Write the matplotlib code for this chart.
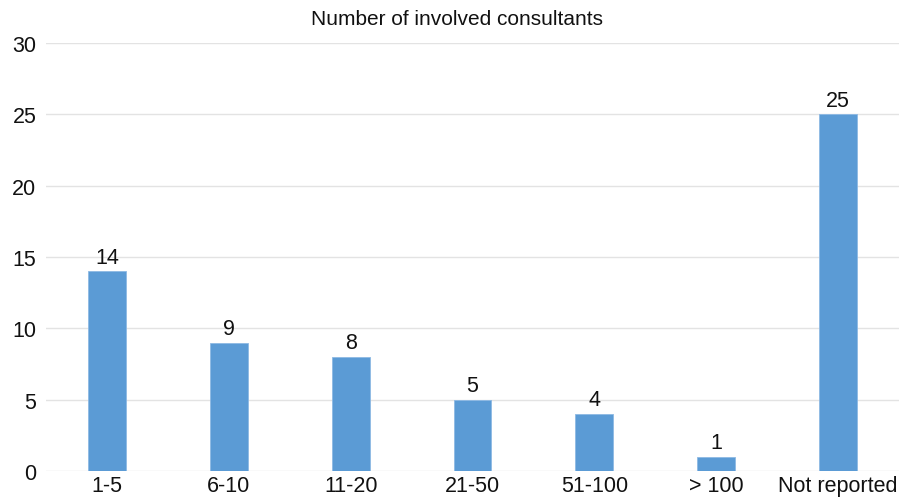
import matplotlib
matplotlib.use("Agg")
import matplotlib.pyplot as plt
import numpy as np

plt.rcParams["font.family"] = ["Liberation Sans", "DejaVu Sans"]

categories = ["1-5", "6-10", "11-20", "21-50", "51-100", "> 100", "Not reported"]
counts = [14, 9, 8, 5, 4, 1, 25]
yticks = [0, 5, 10, 15, 20, 25, 30]

fig = plt.figure(figsize=(9.09, 5.02), dpi=100)
ax = fig.add_axes([0.0506, 0.0598, 0.9384, 0.8526])

x = np.arange(len(categories))
ax.bar(x, counts, width=0.31, color="#5B9BD5", edgecolor="#8DB9E4",
       linewidth=0.6, zorder=3)
for xi, v in zip(x, counts):
    ax.text(xi, v + 0.25, str(v), ha="center", va="bottom", fontsize=15.5,
            color="#111111")

ax.set_xlim(-0.5, len(categories) - 0.5)
ax.set_ylim(0, 30)
ax.set_yticks(yticks)
ax.set_xticks(x)
ax.set_xticklabels(categories)
ax.tick_params(axis="both", length=0, labelsize=15.5, colors="#111111")
ax.tick_params(axis="y", pad=7)
ax.tick_params(axis="x", pad=3)
ax.grid(axis="y", color="#E3E3E3", linewidth=1, zorder=0)
for s in ax.spines.values():
    s.set_visible(False)

fig.text(0.503, 0.962, "Number of involved consultants", ha="center",
         va="center", fontsize=15, color="#111111")

fig.savefig("out.png", dpi=100)
